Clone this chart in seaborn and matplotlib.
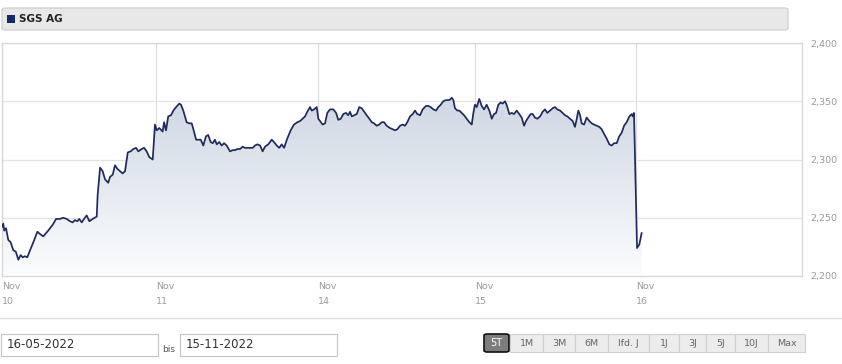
import numpy as np
import pandas as pd
import matplotlib
matplotlib.use("Agg")
import matplotlib.pyplot as plt
import seaborn as sns
from matplotlib.patches import FancyBboxPatch, Rectangle

# ---------------- data (time in % of a trading day since Nov 10 open) ----------------
title = "SGS AG"
time_pct = [
    0.0, 0.8, 1.4, 2.5, 3.9, 5.4, 7.1, 8.6, 10.2, 11.7,
    12.9, 14.4, 15.8, 17.5, 19.6, 22.1, 23.8, 25.8, 28.9, 31.7,
    33.8, 36.3, 38.3, 40.4, 42.5, 44.2, 45.6, 47.1, 48.3, 49.8,
    51.3, 52.9, 54.6, 56.7, 59.2, 59.8, 61.3, 62.9, 64.4, 66.4,
    67.5, 69.2, 70.6, 72.1, 73.8, 75.4, 76.9, 78.6, 80.4, 82.1,
    83.8, 85.2, 87.3, 88.8, 90.4, 92.1, 94.2, 95.6, 96.7, 98.3,
    100.4, 101.3, 102.5, 103.9, 105.6, 107.1, 108.8, 110.8, 111.9, 113.3,
    115.4, 117.1, 118.6, 120.0, 121.3, 122.7, 124.2, 125.8, 127.5, 128.9,
    130.4, 131.7, 133.1, 134.2, 135.8, 137.3, 138.8, 140.4, 142.5, 144.2,
    145.6, 147.1, 148.8, 150.4, 151.9, 153.3, 155.0, 156.7, 158.1, 159.6,
    161.3, 162.9, 164.4, 166.4, 168.6, 170.0, 171.7, 173.3, 174.8, 176.3,
    178.3, 180.4, 182.5, 184.6, 186.3, 187.9, 189.4, 190.8, 192.5, 193.6,
    195.0, 196.7, 197.7, 199.8, 200.4, 201.9, 203.3, 205.0, 207.1, 208.8,
    210.2, 211.7, 213.3, 215.0, 216.4, 217.5, 218.6, 220.2, 221.7, 223.3,
    224.8, 226.4, 227.9, 229.6, 231.1, 232.5, 234.2, 235.8, 237.3, 238.8,
    240.4, 242.5, 244.2, 245.6, 247.1, 248.8, 250.4, 251.9, 253.3, 255.0,
    256.7, 258.1, 259.6, 261.3, 262.9, 265.0, 266.4, 267.9, 269.6, 271.3,
    272.7, 274.2, 275.8, 277.5, 279.6, 281.1, 282.1, 283.1, 284.6, 285.8,
    287.3, 288.8, 290.4, 292.1, 293.6, 294.6, 295.6, 296.7, 298.3, 299.8,
    301.3, 302.9, 304.6, 306.1, 307.5, 308.8, 310.2, 311.7, 312.9, 314.4,
    315.4, 317.1, 318.6, 320.0, 321.7, 323.3, 324.8, 326.3, 327.5, 328.9,
    330.4, 331.7, 333.1, 334.6, 336.3, 337.9, 339.4, 340.8, 342.5, 344.2,
    345.6, 347.1, 348.8, 350.4, 351.9, 353.3, 355.0, 356.7, 358.1, 359.2,
    360.2, 361.3, 362.3, 363.8, 365.4, 367.1, 368.6, 370.0, 371.7, 373.3,
    374.8, 376.3, 377.9, 379.6, 381.1, 382.5, 384.2, 385.8, 387.3, 388.8,
    390.4, 392.1, 393.6, 394.2, 395.0, 396.9, 398.3, 399.8,
]
price = [
    2242, 2245, 2239, 2241, 2231, 2229, 2222, 2221, 2214, 2218,
    2216, 2217, 2216, 2222, 2229, 2238, 2236, 2234, 2239, 2244,
    2249, 2249, 2250, 2249, 2247, 2246, 2248, 2247, 2249, 2246,
    2249, 2252, 2247, 2249, 2251, 2270, 2293, 2290, 2283, 2280,
    2285, 2287, 2295, 2292, 2290, 2288, 2290, 2306, 2307, 2309,
    2310, 2307, 2309, 2310, 2307, 2302, 2300, 2330, 2325, 2327,
    2324, 2332, 2325, 2337, 2338, 2342, 2345, 2348, 2347, 2342,
    2332, 2331, 2331, 2324, 2317, 2317, 2317, 2312, 2320, 2321,
    2315, 2314, 2317, 2313, 2315, 2312, 2314, 2312, 2307, 2308,
    2308, 2309, 2309, 2311, 2310, 2310, 2310, 2310, 2312, 2313,
    2312, 2307, 2311, 2313, 2317, 2315, 2312, 2310, 2313, 2310,
    2318, 2325, 2330, 2332, 2333, 2335, 2337, 2341, 2345, 2342,
    2343, 2345, 2335, 2331, 2330, 2331, 2340, 2343, 2343, 2340,
    2334, 2335, 2339, 2340, 2338, 2341, 2337, 2338, 2339, 2345,
    2344, 2341, 2338, 2335, 2332, 2331, 2329, 2330, 2332, 2332,
    2329, 2327, 2326, 2325, 2326, 2329, 2330, 2329, 2332, 2337,
    2339, 2342, 2339, 2338, 2343, 2346, 2346, 2345, 2343, 2342,
    2345, 2347, 2350, 2351, 2351, 2353, 2351, 2344, 2342, 2342,
    2340, 2338, 2335, 2332, 2330, 2340, 2347, 2345, 2352, 2346,
    2343, 2347, 2342, 2335, 2339, 2340, 2347, 2349, 2348, 2350,
    2347, 2339, 2340, 2339, 2342, 2339, 2336, 2329, 2333, 2336,
    2339, 2339, 2336, 2335, 2337, 2341, 2343, 2340, 2342, 2344,
    2345, 2343, 2342, 2340, 2338, 2337, 2335, 2333, 2328, 2335,
    2342, 2338, 2331, 2330, 2336, 2333, 2331, 2330, 2329, 2328,
    2326, 2322, 2318, 2313, 2312, 2314, 2314, 2320, 2323, 2329,
    2332, 2337, 2339, 2337, 2340, 2224, 2227, 2237,
]
day_tick_pos = [0.0, 96.25, 197.5, 295.6, 396.25]
day_tick_labels = ["Nov\n10", "Nov\n11", "Nov\n14", "Nov\n15", "Nov\n16"]
y_ticks = [2200, 2250, 2300, 2350, 2400]
y_tick_labels = ["2,200", "2,250", "2,300", "2,350", "2,400"]
date_from = "16-05-2022"
date_to = "15-11-2022"
range_buttons = ["5T", "1M", "3M", "6M", "lfd. J", "1J", "3J", "5J", "10J", "Max"]

df = pd.DataFrame({"t": time_pct, "price": price})

# ---------------- figure ----------------
sns.set_theme(style="white")
plt.rcParams["font.family"] = ["DejaVu Sans"]
W, H = 842, 364
fig = plt.figure(figsize=(W / 100, H / 100), dpi=100)
fig.patch.set_facecolor("white")

def fx(px):
    return px / W

def fy(py):
    return 1 - py / H

ax = fig.add_axes([fx(2), fy(276), fx(800), (276 - 43) / H])
ax.set_xlim(0, 500)
ax.set_ylim(2200, 2400)

# gradient fill under the line
grad = np.linspace(0, 1, 256).reshape(-1, 1)
top_c = np.array([0.76, 0.80, 0.86])
bot_c = np.array([0.985, 0.99, 0.995])
img = top_c[None, None, :] * (1 - grad[:, :, None]) + bot_c[None, None, :] * grad[:, :, None]
poly = ax.fill_between(df["t"], df["price"], 2200, facecolor="none", edgecolor="none")
im = ax.imshow(img, extent=[0, 500, 2200, 2400], origin="upper", aspect="auto", zorder=1)
im.set_clip_path(poly.get_paths()[0], transform=ax.transData)

sns.lineplot(data=df, x="t", y="price", ax=ax, color="#1e2b5c", linewidth=1.25,
             estimator=None, sort=False, zorder=3)

# grid
for yv in y_ticks:
    ax.axhline(yv, color="#e2e2e2", linewidth=0.9, zorder=0.5)
for xv in day_tick_pos:
    ax.axvline(xv, color="#dedede", linewidth=0.9, zorder=0.5)

for s in ax.spines.values():
    s.set_color("#d9d9d9")
    s.set_linewidth(1.0)

ax.set_xlabel("")
ax.set_ylabel("")
ax.yaxis.tick_right()
ax.set_yticks(y_ticks)
ax.set_yticklabels(y_tick_labels)
ax.set_xticks(day_tick_pos)
ax.set_xticklabels(day_tick_labels, ha="left", linespacing=1.9)
ax.tick_params(axis="y", length=0, pad=6, labelsize=6.8, labelcolor="#9a9a9a")
ax.tick_params(axis="x", length=0, pad=4, labelsize=6.8, labelcolor="#9a9a9a")

# ---------------- header bar ----------------
hdr = FancyBboxPatch((fx(2), fy(30)), fx(786), (30 - 8) / H,
                     boxstyle="round,pad=0,rounding_size=0.004",
                     transform=fig.transFigure, facecolor="#e8e8e8",
                     edgecolor="#cccccc", linewidth=0.8)
fig.patches.append(hdr)
fig.patches.append(Rectangle((fx(7), fy(23)), fx(8), 8 / H, transform=fig.transFigure,
                             facecolor="#14286b", edgecolor="none"))
fig.text(fx(19), fy(19), title, fontsize=7.5, fontweight="bold", color="#222222",
         va="center", ha="left")

# ---------------- bottom controls ----------------
fig.add_artist(plt.Line2D([0, 1], [fy(318), fy(318)], transform=fig.transFigure,
                          color="#dddddd", linewidth=1))

def box(x0, y0, w, h, fc, ec, lw=0.8):
    fig.patches.append(Rectangle((fx(x0), fy(y0 + h)), fx(w), h / H, transform=fig.transFigure,
                                 facecolor=fc, edgecolor=ec, linewidth=lw))

box(1, 334, 157, 22, "white", "#c4c4c4")
fig.text(fx(7), fy(345), date_from, fontsize=8.5, color="#333333", va="center", ha="left")
fig.text(fx(162), fy(349), "bis", fontsize=6.5, color="#555555", va="center", ha="left")
box(180, 334, 157, 22, "white", "#c4c4c4")
fig.text(fx(186), fy(345), date_to, fontsize=8.5, color="#333333", va="center", ha="left")

btn_edges = [483, 510, 543, 575, 608, 649, 679, 706, 735, 768, 805]
for i, lab in enumerate(range_buttons):
    x0, x1 = btn_edges[i], btn_edges[i + 1]
    if i == 0:
        fb = FancyBboxPatch((fx(x0 + 1), fy(352)), fx(x1 - x0 - 2), 18 / H,
                            boxstyle="round,pad=0,rounding_size=0.004",
                            transform=fig.transFigure, facecolor="#7d7d7d",
                            edgecolor="#111111", linewidth=1.2)
        fig.patches.append(fb)
        fig.text(fx((x0 + x1) / 2), fy(343.5), lab, fontsize=7, color="white",
                 va="center", ha="center")
    else:
        box(x0, 334, x1 - x0, 18, "#ececec", "#cfcfcf")
        fig.text(fx((x0 + x1) / 2), fy(343.5), lab, fontsize=6.8, color="#666666",
                 va="center", ha="center")

fig.savefig("out.png", dpi=100, facecolor="white")
